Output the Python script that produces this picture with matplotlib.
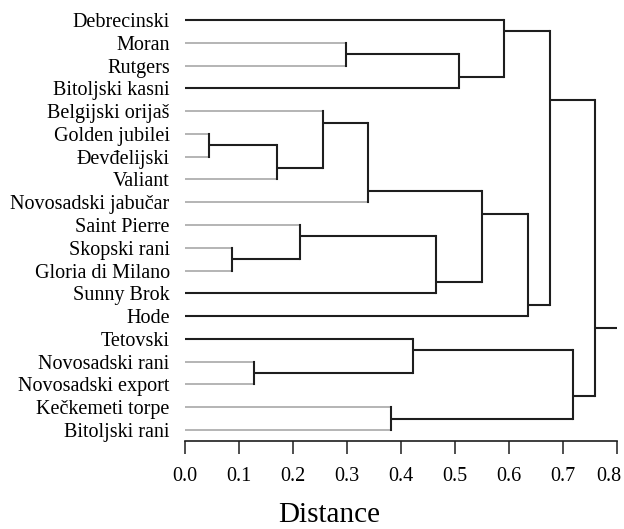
"""Dendrogram of cultivars - hierarchical clustering (Distance)"""
import matplotlib
matplotlib.use("Agg")
import matplotlib.pyplot as plt
import matplotlib.transforms as mtransforms

plt.rcParams["font.family"] = ["Liberation Serif", "DejaVu Serif"]

leaves = ["Debrecinski", "Moran", "Rutgers", "Bitoljski kasni", "Belgijski orijaš",
          "Golden jubilei", "Đevđelijski", "Valiant", "Novosadski jabučar",
          "Saint Pierre", "Skopski rani", "Gloria di Milano", "Sunny Brok", "Hode",
          "Tetovski", "Novosadski rani", "Novosadski export", "Kečkemeti torpe",
          "Bitoljski rani"]

# merges: (child a, child b, distance); ids >= len(leaves) are earlier merges
merges = [
    (5, 6, 0.044),
    (10, 11, 0.087),
    (15, 16, 0.128),
    (19, 7, 0.170),
    (9, 20, 0.213),
    (4, 22, 0.255),
    (1, 2, 0.298),
    (24, 8, 0.339),
    (17, 18, 0.381),
    (14, 21, 0.422),
    (23, 12, 0.465),
    (25, 3, 0.508),
    (26, 29, 0.550),
    (0, 30, 0.591),
    (31, 13, 0.635),
    (32, 33, 0.676),
    (28, 27, 0.718),
    (34, 35, 0.759),
]
max_dist = 0.8

gray_leaves = ["Moran", "Rutgers", "Belgijski orijaš", "Golden jubilei", "Đevđelijski",
               "Valiant", "Novosadski jabučar", "Saint Pierre", "Skopski rani",
               "Gloria di Milano", "Novosadski rani", "Novosadski export",
               "Kečkemeti torpe", "Bitoljski rani"]

BLACK = "#1e1e1e"
GRAY = "#a0a0a0"

n = len(leaves)
# node info: y position, height, leaf range
ypos = {i: float(i) for i in range(n)}
hgt = {i: 0.0 for i in range(n)}
rng = {i: (i, i) for i in range(n)}

fig = plt.figure(figsize=(6.24, 5.29), dpi=100)
ax = fig.add_axes([185 / 624, 88 / 529, 432 / 624, 439.2 / 529])

for k, (a, b, d) in enumerate(merges):
    node = n + k
    if rng[a][0] > rng[b][0]:
        a, b = b, a
    # connector sits at the boundary between the two child leaf ranges
    y = (rng[a][1] + rng[b][0]) / 2
    for c in (a, b):
        col = GRAY if (c < n and leaves[c] in gray_leaves) else BLACK
        lw = 1.1 if col == GRAY else 1.5
        ax.plot([hgt[c], d], [ypos[c], ypos[c]], color=col, lw=lw,
                solid_capstyle="butt", clip_on=False)
    ax.plot([d, d], [ypos[a], ypos[b]], color=BLACK, lw=1.5,
            solid_capstyle="projecting", clip_on=False)
    ypos[node] = y
    hgt[node] = d
    rng[node] = (rng[a][0], rng[b][1])

root = n + len(merges) - 1
ax.plot([hgt[root], max_dist], [ypos[root], ypos[root]], color=BLACK, lw=1.5,
        solid_capstyle="butt", clip_on=False)

ax.set_xlim(0, max_dist)
ax.set_ylim(n - 1 + 0.483, -0.8)
ax.set_xticks([i / 10 for i in range(9)])
ax.set_xticklabels([f"{i / 10:.1f}" for i in range(9)], fontsize=14.5)
ax.set_yticks(range(n))
ax.set_yticklabels(leaves, fontsize=14.5)
ax.tick_params(axis="y", length=0, pad=11)
ax.tick_params(axis="x", length=9.5, width=1.1, direction="out", pad=9, color=BLACK)
for s in ["top", "right", "left"]:
    ax.spines[s].set_visible(False)
ax.spines["bottom"].set_linewidth(1.2)
ax.spines["bottom"].set_color(BLACK)

# last tick label pulled left so it stays inside the figure
last = ax.get_xticklabels()[-1]
last.set_transform(last.get_transform() +
                   mtransforms.ScaledTranslation(-6 / 72, 0, fig.dpi_scale_trans))

fig.text(329 / 624, 1 / 529, "Distance", fontsize=21, ha="center", va="bottom")

fig.savefig("out.png", dpi=100)
print("saved out.png")
